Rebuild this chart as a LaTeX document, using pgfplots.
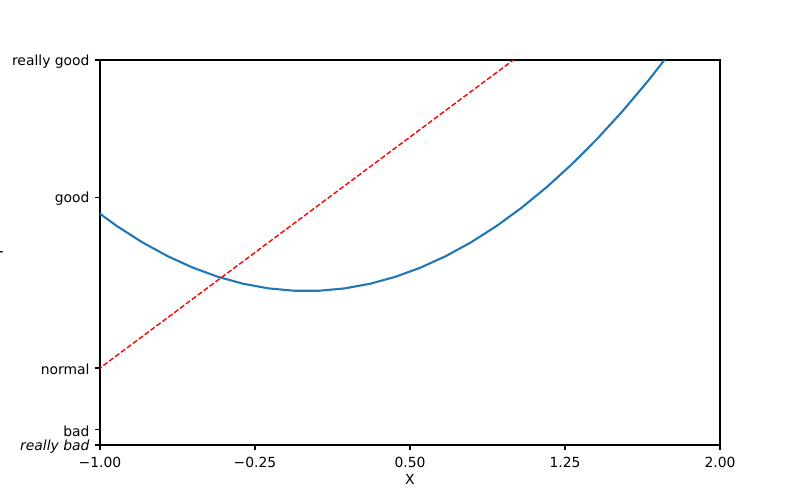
\documentclass[border=0pt]{standalone}
\usepackage{fontspec}
\setmainfont{DejaVu Sans}
\usepackage{pgfplots}
\pgfplotsset{compat=1.18}

\definecolor{mplblue}{HTML}{1F77B4}

\begin{document}
\begin{tikzpicture}
\begin{axis}[
    at={(0pt,0pt)}, anchor=south west,
    scale only axis,
    width=446.4pt, height=277.2pt,
    xmin=-1, xmax=2, ymin=-2, ymax=3,
    xtick={-1,-0.25,0.5,1.25,2},
    xticklabels={−1.00, −0.25, 0.50, 1.25, 2.00},
    ytick={-2,-1.8,-1,1.22,3},
    yticklabels={\textit{really bad}, bad, normal, good, really good},
    xtick pos=bottom, ytick pos=left,
    tick align=outside,
    major tick length=3.5pt,
    every tick/.style={black, line width=0.8pt},
    axis line style={line width=0.8pt},
    tick label style={font=\fontsize{10}{12}\selectfont},
    label style={font=\fontsize{10}{12}\selectfont},
    xticklabel style={yshift=-2pt},
    yticklabel style={xshift=-0.5pt, yshift=-1.2pt},
    xlabel={X},
    xlabel style={yshift=2pt},
    clip=true,
]
% y = x^2
\addplot[mplblue, line width=1.5pt] coordinates {
    (-1.040816, 1.083299) (-0.918367, 0.843398) (-0.795918, 0.633486)
    (-0.673469, 0.453561) (-0.551020, 0.303623) (-0.428571, 0.183673)
    (-0.306122, 0.093711) (-0.183673, 0.033736) (-0.061224, 0.003748)
    (0.061224, 0.003748) (0.183673, 0.033736) (0.306122, 0.093711)
    (0.428571, 0.183673) (0.551020, 0.303623) (0.673469, 0.453561)
    (0.795918, 0.633486) (0.918367, 0.843398) (1.040816, 1.083299)
    (1.163265, 1.353186) (1.285714, 1.653061) (1.408163, 1.982924)
    (1.530612, 2.342774) (1.653061, 2.732611) (1.775510, 3.152436)
};
% straight dashed line
\addplot[red, line width=1pt, dash pattern=on 3.7pt off 1.6pt] coordinates {
    (-1.040816, -1.081633) (1.040816, 3.081633)
};
\end{axis}
% y label, mostly outside the figure as in the original
\node[rotate=90, anchor=south, inner sep=0pt, font=\fontsize{10}{12}\selectfont]
    at (-69.8pt,138.6pt) {Y};
\pgfresetboundingbox
\path[use as bounding box] (-72pt,-39.6pt) rectangle (504pt,320.4pt);
\end{tikzpicture}
\end{document}
